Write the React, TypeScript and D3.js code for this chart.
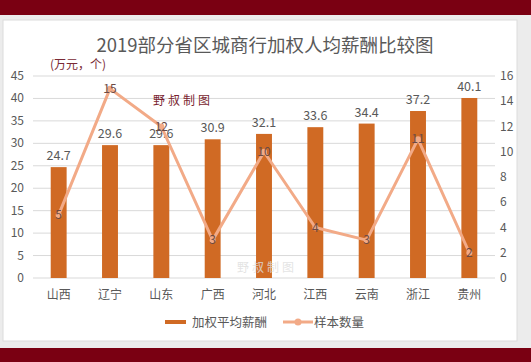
import { scaleBand, scaleLinear, line } from "d3";

const categories = ["山西", "辽宁", "山东", "广西", "河北", "江西", "云南", "浙江", "贵州"];
const salary = [24.7, 29.6, 29.6, 30.9, 32.1, 33.6, 34.4, 37.2, 40.1];
const samples = [5, 15, 12, 3, 10, 4, 3, 11, 2];
const leftTicks = [0, 5, 10, 15, 20, 25, 30, 35, 40, 45];
const rightTicks = [0, 2, 4, 6, 8, 10, 12, 14, 16];

const barColor = "#D06A24";
const lineColor = "#F2AA87";
const textColor = "#595959";
const font = "'Noto Sans CJK SC', 'Noto Sans', sans-serif";

export default function App() {
  const width = 531;
  const height = 362;
  const plot = { left: 33, right: 495, top: 76, bottom: 278 };

  const x = scaleBand<string>()
    .domain(categories)
    .range([plot.left, plot.right])
    .paddingInner(0.69)
    .paddingOuter(0.345);
  const yL = scaleLinear().domain([0, 45]).range([plot.bottom, plot.top]);
  const yR = scaleLinear().domain([0, 16]).range([plot.bottom, plot.top]);
  const cx = (c: string) => (x(c) ?? 0) + x.bandwidth() / 2;

  const path = line<number>()
    .x((_, i) => cx(categories[i]))
    .y((d) => yR(d))(samples);

  return (
    <svg
      width={width}
      height={height}
      style={{ position: "absolute", left: 0, top: 0 }}
      fontFamily={font}
    >
      <rect x={0} y={0} width={width} height={height} fill="#ececec" />
      <rect x={0} y={0} width={width} height={15} fill="#7A0012" />
      <rect x={0} y={348} width={width} height={14} fill="#7A0012" />
      <rect x={3} y={20} width={514} height={321} fill="#ffffff" stroke="#dcdcdc" />

      <text x={265} y={52} textAnchor="middle" fontSize={18.5} fill={textColor}>
        2019部分省区城商行加权人均薪酬比较图
      </text>
      <text x={50} y={69} fontSize={12} fill="#7A2A35">(万元，个)</text>

      <g>
        {leftTicks.map((t) => (
          <line key={t} x1={plot.left} x2={plot.right} y1={yL(t)} y2={yL(t)} stroke="#d9d9d9" />
        ))}
      </g>
      <g fontSize={12} fill={textColor}>
        {leftTicks.map((t) => (
          <text key={t} x={24} y={yL(t) + 4} textAnchor="end">{t}</text>
        ))}
        {rightTicks.map((t) => (
          <text key={t} x={500} y={yR(t) + 4}>{t}</text>
        ))}
        {categories.map((c) => (
          <text key={c} x={cx(c)} y={299} textAnchor="middle">{c}</text>
        ))}
      </g>

      <text x={153} y={105} fontSize={12} fill="#7A1F30" letterSpacing={3}>野叔制图</text>

      <g>
        {salary.map((v, i) => (
          <rect
            key={categories[i]}
            x={x(categories[i])}
            y={yL(v)}
            width={x.bandwidth()}
            height={yL(0) - yL(v)}
            fill={barColor}
          />
        ))}
      </g>
      <text x={237} y={272} fontSize={12} fill="#ffffff" fillOpacity={0.55} letterSpacing={3}>野叔制图</text>
      <text x={237} y={272} fontSize={12} fill="#c8c8c8" fillOpacity={0.5} letterSpacing={3}>野叔制图</text>
      <g fontSize={12.5} fill={textColor} textAnchor="middle">
        {salary.map((v, i) => (
          <text key={categories[i]} x={cx(categories[i])} y={yL(v) - 7}>{v.toFixed(1)}</text>
        ))}
      </g>

      <path d={path ?? ""} fill="none" stroke={lineColor} strokeWidth={3} strokeLinejoin="round" />
      <g>
        {samples.map((v, i) => (
          <circle key={categories[i]} cx={cx(categories[i])} cy={yR(v)} r={3} fill={lineColor} />
        ))}
      </g>
      <g fontSize={12} fill="#6b4a44" textAnchor="middle">
        {samples.map((v, i) => (
          <text key={categories[i]} x={cx(categories[i])} y={yR(v) + 4}>{v}</text>
        ))}
      </g>

      <g fontSize={12.5} fill={textColor}>
        <rect x={165} y={320} width={21} height={4} fill={barColor} />
        <text x={192} y={327}>加权平均薪酬</text>
        <line x1={283} x2={313} y1={322} y2={322} stroke={lineColor} strokeWidth={3} />
        <circle cx={298} cy={322} r={3.5} fill={lineColor} />
        <text x={314} y={327}>样本数量</text>
      </g>
    </svg>
  );
}
